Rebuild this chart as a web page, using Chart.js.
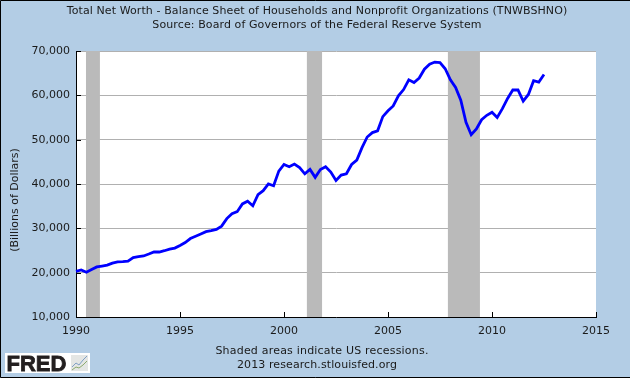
<!DOCTYPE html>
<html>
<head>
<meta charset="utf-8">
<style>
  html, body { margin: 0; padding: 0; background: #b3cde5; }
  canvas { display: block; }
</style>
<script src="https://cdn.jsdelivr.net/npm/chart.js@4"></script>
</head>
<body>
<canvas id="fred-chart" width="630" height="378"></canvas>
<script>
const titleLines = [
  'Total Net Worth - Balance Sheet of Households and Nonprofit Organizations (TNWBSHNO)',
  'Source: Board of Governors of the Federal Reserve System'
];
const footerLines = ['Shaded areas indicate US recessions.', '2013 research.stlouisfed.org'];
const yAxisLabel = '(Billions of Dollars)';
const startYear = 1990;
const netWorth = [
  20300, 20600, 20100, 20700, 21300, 21500, 21700, 22150, 22450, 22500,
  22600, 23400, 23600, 23770, 24200, 24660, 24660, 24950, 25300, 25550,
  26140, 26800, 27700, 28200, 28730, 29250, 29470, 29770, 30500, 32200,
  33300, 33760, 35500, 36100, 35100, 37600, 38500, 40000, 39600, 42900,
  44400, 43900, 44500, 43700, 42300, 43300, 41500, 43250, 43900, 42700,
  40800, 42000, 42300, 44400, 45400, 48200, 50600, 51600, 52000, 55200,
  56500, 57600, 59900, 61300, 63500, 62900, 63900, 65900, 67000, 67500,
  67400, 66000, 63500, 61800, 58900, 53900, 51100, 52400, 54500, 55500,
  56200, 55000, 57000, 59300, 61200, 61200, 58700, 60200, 63300, 63000,
  64700
];
const recessionStarts = [1990.48, 2001.1, 2007.88];
const recessionEnds = [1991.15, 2001.83, 2009.42];

const points = netWorth.map((v, i) => ({ x: startYear + i * 0.25, y: v }));

const pagePlugin = {
  id: 'pagePlugin',
  beforeDraw(chart) {
    const { ctx, chartArea } = chart;
    ctx.save();
    ctx.fillStyle = '#fff';
    ctx.fillRect(chartArea.left, chartArea.top, chartArea.right - chartArea.left, chartArea.bottom - chartArea.top);
    ctx.restore();
  },
  beforeDatasetsDraw(chart) {
    // recession bars go over the grid lines but under the series
    const { ctx, chartArea, scales } = chart;
    ctx.save();
    ctx.fillStyle = '#bababa';
    recessionStarts.forEach((start, i) => {
      const x0 = scales.x.getPixelForValue(start);
      const x1 = scales.x.getPixelForValue(recessionEnds[i]);
      ctx.fillRect(x0, chartArea.top, x1 - x0, chartArea.bottom - chartArea.top);
    });
    ctx.restore();
  },
  afterDraw(chart) {
    const { ctx, width, height, chartArea, scales } = chart;
    ctx.save();

    // inward tick marks
    ctx.strokeStyle = '#000';
    ctx.lineWidth = 1;
    ctx.beginPath();
    scales.y.ticks.forEach(t => {
      const y = Math.round(scales.y.getPixelForValue(t.value)) + 0.5;
      ctx.moveTo(chartArea.left, y);
      ctx.lineTo(chartArea.left + 5, y);
    });
    scales.x.ticks.forEach(t => {
      const x = Math.round(scales.x.getPixelForValue(t.value)) + 0.5;
      ctx.moveTo(x, chartArea.bottom);
      ctx.lineTo(x, chartArea.bottom - 5);
    });
    ctx.stroke();

    // title, footer, y axis label
    ctx.fillStyle = '#1a1a1a';
    ctx.font = '11px "DejaVu Sans"';
    ctx.textAlign = 'center';
    ctx.textBaseline = 'middle';
    ctx.letterSpacing = '0.1px';
    ctx.fillText(titleLines[0], 317, 11);
    ctx.fillText(titleLines[1], 317, 25);
    ctx.letterSpacing = '0.2px';
    ctx.fillText(footerLines[0], 322, 351);
    ctx.letterSpacing = '0.1px';
    ctx.fillText(footerLines[1], 317, 365);
    ctx.letterSpacing = '0px';
    ctx.save();
    ctx.translate(15, 200);
    ctx.rotate(-Math.PI / 2);
    ctx.fillText(yAxisLabel, 0, 0);
    ctx.restore();

    // FRED logo
    ctx.fillStyle = '#fff';
    ctx.fillRect(5, 353, 85, 20);
    ctx.fillStyle = '#231f20';
    ctx.strokeStyle = '#231f20';
    ctx.lineWidth = 0.8;
    ctx.font = 'bold 22px "Liberation Sans"';
    ctx.textAlign = 'left';
    ctx.textBaseline = 'alphabetic';
    ctx.fillText('FRED', 6.5, 371);
    ctx.strokeText('FRED', 6.5, 371);
    ctx.fillStyle = '#e4e6e4';
    ctx.fillRect(71, 355, 17, 16);
    ctx.lineWidth = 1;
    ctx.strokeStyle = '#7f9fc4';
    ctx.beginPath();
    [[72, 367], [76, 363], [79, 365], [83, 360], [87, 356]].forEach(p => ctx.lineTo(p[0], p[1]));
    ctx.stroke();
    ctx.strokeStyle = '#8cab6e';
    ctx.beginPath();
    [[72, 370], [76, 367], [79, 368], [83, 365], [87, 361]].forEach(p => ctx.lineTo(p[0], p[1]));
    ctx.stroke();

    // outer frame, open on the right
    ctx.strokeStyle = '#000';
    ctx.lineWidth = 1;
    ctx.beginPath();
    ctx.moveTo(width, 0.5);
    ctx.lineTo(0.5, 0.5);
    ctx.lineTo(0.5, height - 0.5);
    ctx.lineTo(width, height - 0.5);
    ctx.stroke();
    ctx.restore();
  }
};

new Chart(document.getElementById('fred-chart'), {
  type: 'line',
  data: {
    datasets: [{
      data: points,
      borderColor: '#0000ff',
      borderWidth: 2.8,
      pointRadius: 0,
      tension: 0,
      clip: false
    }]
  },
  plugins: [pagePlugin],
  options: {
    responsive: false,
    animation: false,
    devicePixelRatio: 1,
    layout: { padding: { left: 0, right: 34, top: 51, bottom: 0 } },
    plugins: {
      legend: { display: false },
      tooltip: { enabled: false },
      title: { display: false }
    },
    scales: {
      x: {
        type: 'linear',
        min: 1990,
        max: 2015,
        afterFit: scale => { scale.height = 61; },
        border: { color: '#000', width: 1 },
        grid: { display: false },
        ticks: {
          stepSize: 5,
          maxRotation: 0,
          color: '#1a1a1a',
          padding: 0,
          font: { family: '"DejaVu Sans"', size: 11 },
          callback: v => String(v)
        }
      },
      y: {
        min: 10000,
        max: 70000,
        afterFit: scale => { scale.width = 76; },
        border: { color: '#000', width: 1 },
        grid: { color: '#b0b0b0', lineWidth: 1, drawTicks: false },
        ticks: {
          stepSize: 10000,
          color: '#1a1a1a',
          padding: 6,
          font: { family: '"DejaVu Sans"', size: 11 },
          callback: v => v.toLocaleString('en-US')
        }
      }
    }
  }
});
</script>
</body>
</html>
